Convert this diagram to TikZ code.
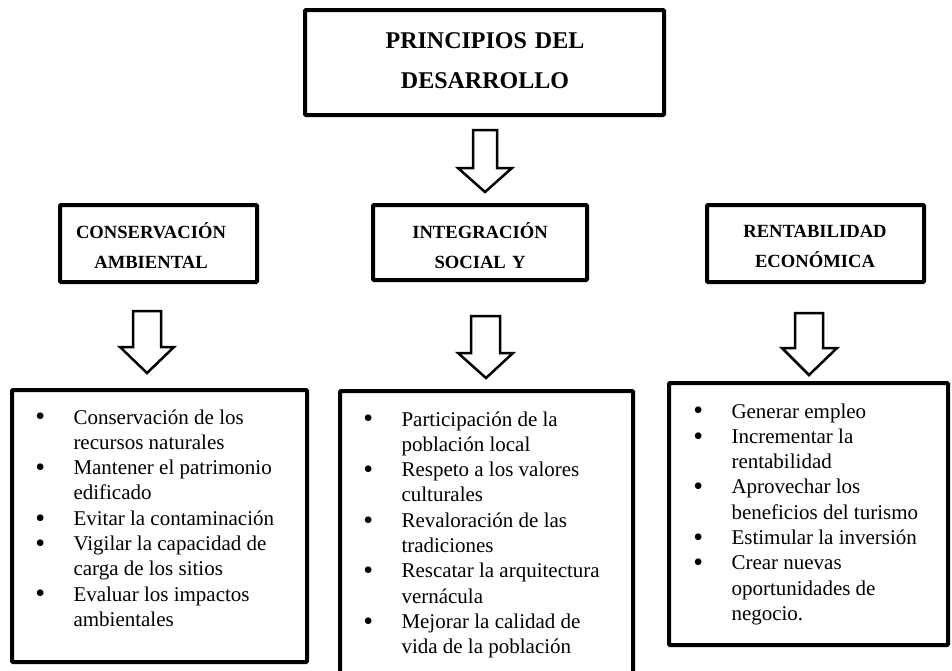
\documentclass[tikz,border=0pt]{standalone}
\usepackage{fontspec}
\setmainfont{Liberation Serif}
\newcommand{\myitem}{\par\noindent\hangindent=37pt\hangafter=1\makebox[37pt][l]{\hspace{-1.2pt}\raisebox{-1.8pt}{\fontsize{28}{28}\selectfont •}}}
\newcommand{\nl}{\hfil\break}
\newcommand{\mylist}[1]{\parbox[t]{300pt}{\fontsize{21}{25.3}\selectfont\parindent=0pt\rightskip=0pt plus 1fil\parfillskip=0pt plus 1fil #1\par}}
\begin{document}
\begin{tikzpicture}[x=1pt,y=-1pt,
  box/.style={draw, line width=4pt, rounded corners=1pt, inner sep=0pt, fill=white},
  titletext/.style={font=\bfseries\fontsize{24}{40}\selectfont, align=center, text width=340pt, inner sep=0pt, anchor=base},
  headtext/.style={font=\bfseries\fontsize{18.6}{30.5}\selectfont, align=center, text width=200pt, inner sep=0pt, anchor=base},
  listtext/.style={inner sep=0pt, anchor=base west},
  blockarrow/.style={draw, line width=2.5pt, fill=white, line join=miter}]
\useasboundingbox (0,0) rectangle (952,670);
\clip (0,0) rectangle (952,670);

% boxes
\node[box, minimum width=359pt, minimum height=105pt] (top) at (484.5,62.5) {};
\node[box, minimum width=197pt, minimum height=77pt] (hleft) at (158.5,243.5) {};
\node[box, minimum width=214pt, minimum height=75pt] (hmid) at (480,242.5) {};
\node[box, minimum width=217pt, minimum height=77pt] (hright) at (815.5,243.5) {};
\node[box, minimum width=295pt, minimum height=272pt] (lleft) at (159.5,526) {};
\node[box, minimum width=293pt, minimum height=320pt] (lmid) at (486.5,551) {};
\node[box, minimum width=279pt, minimum height=262pt] (lright) at (808.5,514) {};

% texts
\node[titletext] (ttop) at (485,48.5) {PRINCIPIOS DEL\\DESARROLLO};
\node[headtext] (thleft) at (151,238) {CONSERVACIÓN\\AMBIENTAL};
\node[headtext] (thmid) at (480,238) {INTEGRACIÓN\\SOCIAL Y};
\node[headtext] (thright) at (815,237) {RENTABILIDAD\\ECONÓMICA};

\node[listtext] (tlleft) at (36.3,424) {\mylist{%
\myitem Conservación de los\nl recursos naturales
\myitem Mantener el patrimonio\nl edificado
\myitem Evitar la contaminación
\myitem Vigilar la capacidad de\nl carga de los sitios
\myitem Evaluar los impactos\nl ambientales}};

\node[listtext] (tlmid) at (364.3,426) {\mylist{%
\myitem Participación de la\nl población local
\myitem Respeto a los valores\nl culturales
\myitem Revaloración de las\nl tradiciones
\myitem Rescatar la arquitectura\nl vernácula
\myitem Mejorar la calidad de\nl vida de la población}};

\node[listtext] (tlright) at (694.3,418) {\mylist{%
\myitem Generar empleo
\myitem Incrementar la\nl rentabilidad
\myitem Aprovechar los\nl beneficios del turismo
\myitem Estimular la inversión
\myitem Crear nuevas\nl oportunidades de\nl negocio.}};

% block arrows
\draw[blockarrow] (473,130) -- (497,130) -- (497,168) -- (512,168) -- (485,192) -- (458,168) -- (473,168) -- cycle;
\draw[blockarrow] (133,311) -- (161,311) -- (161,347) -- (174,347) -- (147,373) -- (120,347) -- (133,347) -- cycle;
\draw[blockarrow] (471,316) -- (500,316) -- (500,353) -- (513,353) -- (486,378) -- (458,353) -- (471,353) -- cycle;
\draw[blockarrow] (795,313) -- (823,313) -- (823,348) -- (837,348) -- (809,375) -- (782,348) -- (795,348) -- cycle;
\end{tikzpicture}
\end{document}
